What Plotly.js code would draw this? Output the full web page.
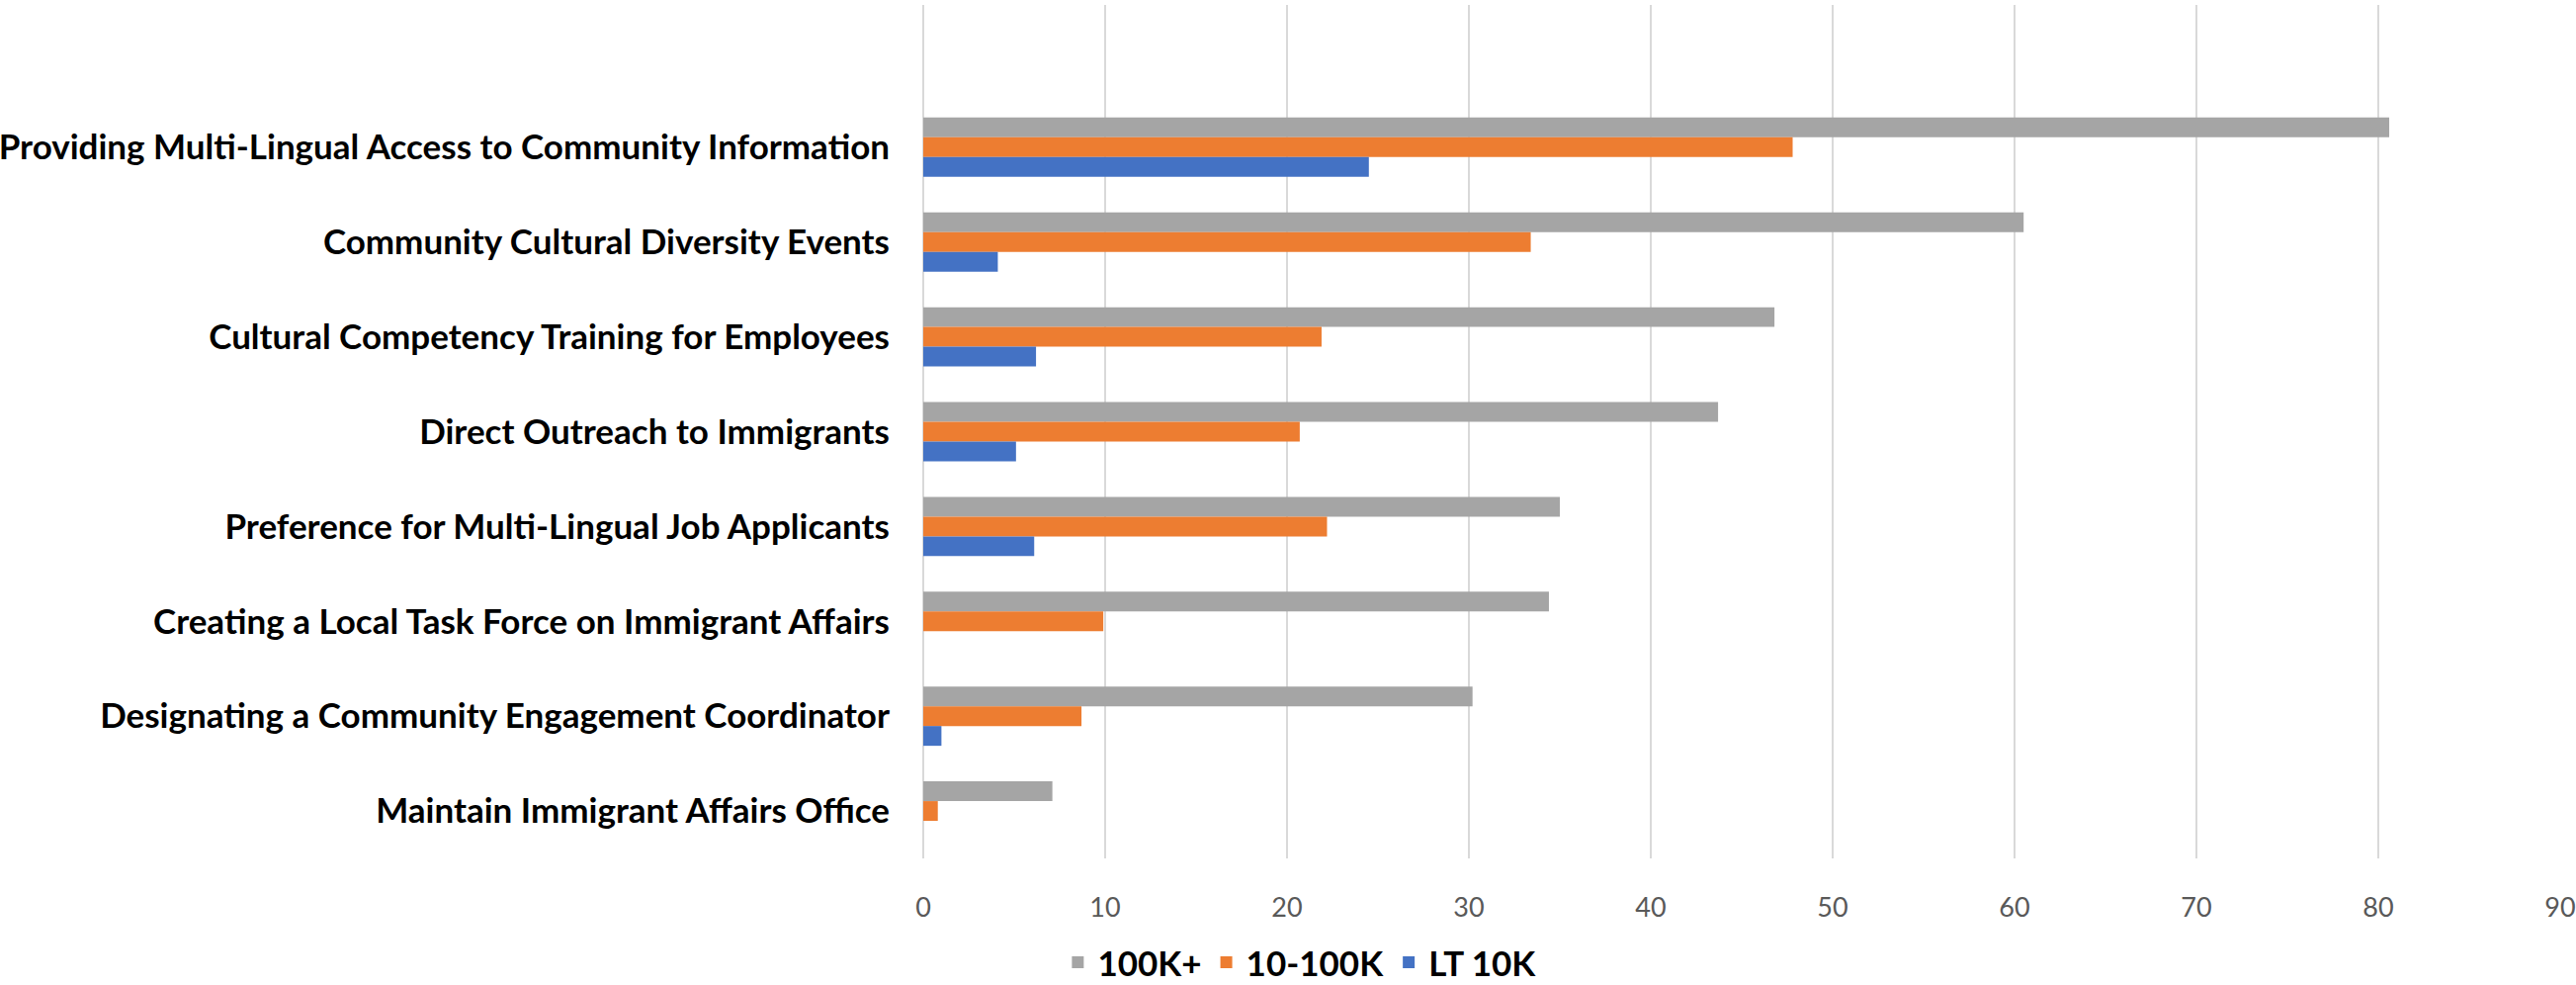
<!DOCTYPE html>
<html>
<head>
<meta charset="utf-8">
<script src="https://cdn.plot.ly/plotly-3.0.1.min.js"></script>
<style>html,body{margin:0;padding:0;background:#fff;}#chart{width:2606px;height:996px;}</style>
</head>
<body>
<div id="chart"></div>
<script>
const categories = [
  "Providing Multi-Lingual Access to Community Information",
  "Community Cultural Diversity Events",
  "Cultural Competency Training for Employees",
  "Direct Outreach to Immigrants",
  "Preference for Multi-Lingual Job Applicants",
  "Creating a Local Task Force on Immigrant Affairs",
  "Designating a Community Engagement Coordinator",
  "Maintain Immigrant Affairs Office"
];
const seriesNames = ["100K+", "10-100K", "LT 10K"];
const values100K = [80.6, 60.5, 46.8, 43.7, 35.0, 34.4, 30.2, 7.1];
const values10to100K = [47.8, 33.4, 21.9, 20.7, 22.2, 9.9, 8.7, 0.8];
const valuesLT10K = [24.5, 4.1, 6.2, 5.1, 6.1, 0, 1.0, 0];
const tickValues = [0, 10, 20, 30, 40, 50, 60, 70, 80, 90];
const colors = ["#A5A5A5", "#ED7D31", "#4472C4"];

const allValues = [values100K, values10to100K, valuesLT10K];
const traces = allValues.map((vals, i) => ({
  type: "bar",
  orientation: "h",
  name: seriesNames[i],
  x: vals,
  y: categories,
  marker: { color: colors[i], line: { width: 0 } },
  hoverinfo: "x+name"
}));

const layout = {
  width: 2606,
  height: 996,
  margin: { l: 934, r: 16, t: 5, b: 128, autoexpand: false },
  paper_bgcolor: "#ffffff",
  plot_bgcolor: "#ffffff",
  barmode: "group",
  bargap: 0.375,
  bargroupgap: 0,
  showlegend: true,
  legend: {
    orientation: "h",
    x: 0.23,
    xanchor: "center",
    y: -0.122,
    yanchor: "middle",
    font: { family: "Lato, 'Open Sans', sans-serif", size: 35, color: "#000000", weight: "bold" },
    itemwidth: 30
  },
  xaxis: {
    range: [0, 90],
    tickvals: tickValues,
    ticktext: tickValues.map(String),
    showgrid: true,
    gridcolor: "#D9D9D9",
    gridwidth: 2,
    zeroline: true,
    zerolinecolor: "#D9D9D9",
    zerolinewidth: 2,
    showline: false,
    ticks: "outside",
    ticklen: 26,
    tickcolor: "rgba(0,0,0,0)",
    tickfont: { family: "Lato, 'Open Sans', sans-serif", size: 27, color: "#595959" },
    fixedrange: true
  },
  yaxis: {
    type: "category",
    range: [7.5, -1.5],
    showgrid: false,
    zeroline: false,
    showline: false,
    ticks: "outside",
    ticklen: 26,
    tickcolor: "rgba(0,0,0,0)",
    tickfont: { family: "Lato, 'Open Sans', sans-serif", size: 35, color: "#000000", weight: "bold" },
    fixedrange: true
  }
};

Plotly.newPlot("chart", traces, layout, { displayModeBar: false, staticPlot: true });
</script>
</body>
</html>
